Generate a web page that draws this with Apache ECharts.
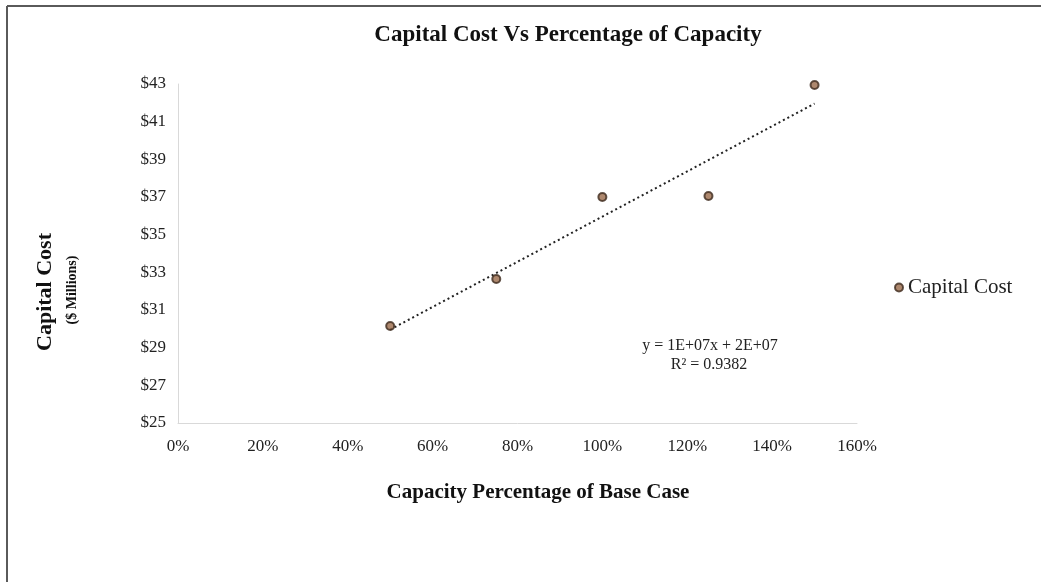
<!DOCTYPE html>
<html>
<head>
<meta charset="utf-8">
<script src="https://cdn.jsdelivr.net/npm/echarts@6/dist/echarts.min.js"></script>
<style>html,body{margin:0;padding:0;background:#fff;}#c{width:1041px;height:582px;}</style>
</head>
<body>
<div id="c"></div>
<script>
// Data
const capacityPct = [0.50, 0.75, 1.00, 1.25, 1.50];
const capitalCost = [30.15, 32.65, 37.00, 37.05, 42.95];
const seriesName = 'Capital Cost';
const equationText = 'y = 1E+07x + 2E+07';
const r2Text = 'R² = 0.9382';

// Linear trendline (least squares, like Excel's trendline)
const n = capacityPct.length;
const mx = capacityPct.reduce((a, b) => a + b, 0) / n;
const my = capitalCost.reduce((a, b) => a + b, 0) / n;
let sxy = 0, sxx = 0;
for (let i = 0; i < n; i++) { sxy += (capacityPct[i] - mx) * (capitalCost[i] - my); sxx += (capacityPct[i] - mx) ** 2; }
const slope = sxy / sxx, icpt = my - slope * mx;
const xMin = Math.min(...capacityPct), xMax = Math.max(...capacityPct);
const trend = [[xMin, icpt + slope * xMin], [xMax, icpt + slope * xMax]];

const font = '"Liberation Serif", "Times New Roman", serif';
const chart = echarts.init(document.getElementById('c'));
chart.setOption({
  backgroundColor: '#fff',
  animation: false,
  textStyle: { fontFamily: font },
  title: {
    text: 'Capital Cost Vs Percentage of Capacity',
    left: 563, top: 19, textAlign: 'center',
    textStyle: { fontFamily: font, fontSize: 23, fontWeight: 'bold', color: '#111' }
  },
  legend: {
    data: [{ name: seriesName, icon: 'circle' }],
    orient: 'vertical', left: 889, top: 272,
    itemWidth: 8, itemHeight: 8, itemGap: 6,
    textStyle: { fontFamily: font, fontSize: 21, color: '#222' }
  },
  grid: { left: 178, right: 184, top: 84, bottom: 159 },
  xAxis: {
    type: 'value', min: 0, max: 1.6, interval: 0.2,
    axisLine: { lineStyle: { color: '#d9d9d9', width: 1 } },
    axisTick: { show: false },
    splitLine: { show: false },
    axisLabel: { formatter: v => Math.round(v * 100) + '%', fontFamily: font, fontSize: 17, color: '#222', margin: 15 }
  },
  yAxis: {
    type: 'value', min: 25, max: 43, interval: 2,
    axisLine: { show: true, lineStyle: { color: '#d9d9d9', width: 1 } },
    axisTick: { show: false },
    splitLine: { show: false },
    axisLabel: { formatter: v => '$' + v, fontFamily: font, fontSize: 17, color: '#222', margin: 12 }
  },
  graphic: [
    { type: 'line', shape: { x1: 7, y1: 6, x2: 1041, y2: 6 }, style: { stroke: '#5a5a5a', lineWidth: 2 } },
    { type: 'line', shape: { x1: 7, y1: 6, x2: 7, y2: 582 }, style: { stroke: '#5a5a5a', lineWidth: 2 } },
    { type: 'text', x: 538, y: 493,
      style: { text: 'Capacity Percentage of Base Case', font: 'bold 21px ' + font, fill: '#111', textAlign: 'center', textVerticalAlign: 'middle' } },
    { type: 'text', x: 45, y: 292, rotation: Math.PI / 2,
      style: { text: 'Capital Cost', font: 'bold 22px ' + font, fill: '#111', textAlign: 'center', textVerticalAlign: 'middle' } },
    { type: 'text', x: 72, y: 290, rotation: Math.PI / 2,
      style: { text: '($ Millions)', font: 'bold 14px ' + font, fill: '#111', textAlign: 'center', textVerticalAlign: 'middle' } },
    { type: 'text', x: 710, y: 346,
      style: { text: equationText, font: '16px ' + font, fill: '#222', textAlign: 'center', textVerticalAlign: 'middle' } },
    { type: 'text', x: 709, y: 365,
      style: { text: r2Text, font: '16px ' + font, fill: '#222', textAlign: 'center', textVerticalAlign: 'middle' } }
  ],
  series: [
    {
      name: 'trend', type: 'line', data: trend, symbol: 'none', silent: true,
      lineStyle: { color: '#222', width: 2, type: [2, 3] }, z: 1
    },
    {
      name: seriesName, type: 'scatter',
      data: capacityPct.map((x, i) => [x, capitalCost[i]]),
      symbol: 'circle', symbolSize: 8,
      itemStyle: { color: '#9a6a4a', borderColor: '#3d2a1e', borderWidth: 2 }, z: 3
    }
  ]
});
</script>
</body>
</html>
